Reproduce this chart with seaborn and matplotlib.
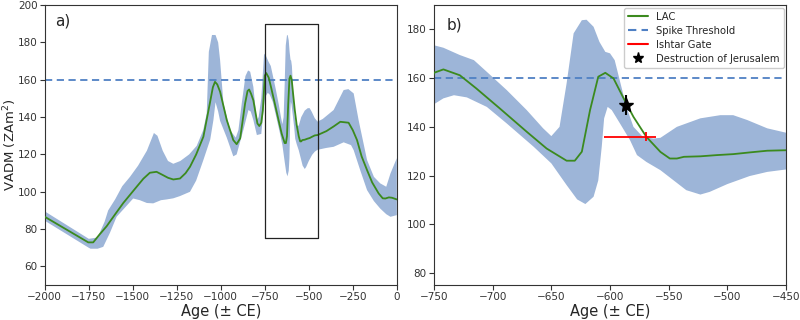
import numpy as np
import pandas as pd
import matplotlib
matplotlib.use("Agg")
import matplotlib.pyplot as plt
from matplotlib.lines import Line2D
import seaborn as sns

# ---- data ----
lac_age = [-2000, -1753, -1725, -1690, -1649, -1600, -1554, -1478, -1440, -1403, -1365, -1330,
           -1300, -1270, -1232, -1200, -1175, -1140, -1099, -1061, -1045, -1033, -1020, -1004,
           -985, -966, -929, -910, -890, -862, -848, -839, -828, -815, -792, -781, -770, -761,
           -750, -742, -728, -714, -694, -671, -654, -637, -630, -624, -617, -610, -604, -597,
           -589, -580, -569, -557, -549, -543, -537, -523, -509, -495, -481, -466, -450, -400,
           -359, -321, -274, -250, -226, -200, -169, -140, -103, -80, -65, -45, -27, 0]
lac_vadm = [86.6, 72.9, 72.9, 77, 81.5, 88, 94, 102.7, 107, 110.2, 110.7, 109,
            107.5, 106.6, 107.1, 110, 113.4, 120, 129.5, 148, 156, 158.9, 157.5, 153.6,
            146, 138.4, 127.7, 125.5, 128.6, 147.3, 154, 154.8, 152.5, 149, 136.6, 135.2, 137, 143.7,
            162.2, 163.6, 161.2, 155.8, 147.6, 138, 131.1, 126.1, 126.1, 129.8, 146.9, 160.6, 162.2, 159.9,
            152.3, 144.1, 135.9, 129.7, 127, 127, 127.7, 127.9, 128.4, 128.8, 129.5, 130.2, 130.4, 132.5,
            135, 137.5, 137, 133, 127.7, 119, 111.6, 105, 99.1, 96.5, 96.4, 97, 96.8, 95.9]

upper_age = [-2000, -1750, -1700, -1660, -1640, -1600, -1560, -1516, -1470, -1420, -1380, -1360,
             -1330, -1300, -1270, -1230, -1180, -1137, -1100, -1080, -1068, -1050, -1030, -1015,
             -1004, -985, -947, -915, -900, -881, -860, -845, -833, -815, -796, -785, -770, -754,
             -742, -728, -716, -705, -688, -671, -657, -650, -643, -637, -631, -624, -620, -614,
             -609, -604, -600, -596, -591, -586, -580, -572, -563, -557, -543, -523, -506, -495,
             -483, -466, -450, -421, -359, -302, -275, -245, -217, -169, -130, -94, -60, -36, 0]
upper_vadm = [89.5, 74.8, 75.5, 84, 90, 96, 103, 108, 114, 122, 131.5, 130,
              122, 116.5, 115, 116.5, 120, 124.6, 133, 142, 175, 184, 184, 180,
              170.5, 147.3, 133, 129, 133, 147.3, 162, 165, 164.3, 156.2, 138.4, 140, 150, 174,
              172.5, 169.5, 167.4, 162.6, 155.1, 146.9, 139.4, 136.2, 140, 157.8, 178.4, 183.8, 184, 181.1,
              174.9, 170.8, 170.2, 167.4, 157.8, 148.2, 140, 135.9, 135.2, 135.5, 140, 143.5, 144.8, 144.8,
              142.8, 139.4, 137.6, 139, 143.8, 154.5, 155, 152.7, 138.4, 117, 108, 104.5, 102.7, 109.8, 118]

lower_age = [-2000, -1750, -1740, -1700, -1668, -1630, -1592, -1540, -1498, -1460, -1420, -1384,
             -1340, -1308, -1270, -1232, -1175, -1140, -1099, -1060, -1042, -1030, -1015, -1004,
             -966, -929, -910, -872, -843, -830, -815, -795, -770, -756, -750, -742, -733, -722,
             -705, -688, -665, -650, -637, -628, -621, -614, -610, -607, -605, -602, -598.5, -591.5,
             -583, -577, -569, -557, -546, -535, -523, -515, -500, -481, -466, -450, -400, -359,
             -302, -260, -245, -208, -169, -130, -94, -60, -36, 0]
lower_vadm = [84.5, 70, 69.5, 69.5, 70.5, 78, 86.6, 92, 96.4, 95.5, 94, 93.8,
              95.5, 95.9, 96.5, 97.7, 100, 106, 117, 128, 138.4, 148, 143, 138,
              129, 119, 120, 133, 143.8, 143, 138.4, 130.4, 131, 145, 149.3, 151.7, 153, 152.1,
              148.2, 141.4, 131.8, 125, 116.1, 110.2, 108.3, 111.3, 118, 132, 143.5, 148.2, 146.9, 141.4,
              134.6, 128.4, 125.6, 122.2, 118.1, 114, 112.2, 113.3, 116.5, 119.8, 121.5, 122.5, 123.5, 124.1,
              126.5, 125, 122.3, 111.6, 100.9, 95, 91, 88, 86.6, 87.5]

spike_threshold = 160

ishtar_age = [-569]
ishtar_vadm = [136]
ishtar_age_err = [[36], [8]]
ishtar_vadm_err = [2]

jerusalem_age = [-586]
jerusalem_vadm = [149]
jerusalem_vadm_err = [4]

box_age = [-750, -450]
box_vadm = [75, 190]

# ---- style ----
sns.set_theme(style="ticks")
plt.rcParams["font.family"] = ["DejaVu Sans"]
plt.rcParams["xtick.labelsize"] = 7.5
plt.rcParams["ytick.labelsize"] = 7.5
plt.rcParams["axes.edgecolor"] = "#333333"
plt.rcParams["xtick.color"] = "#333333"
plt.rcParams["ytick.color"] = "#333333"

band_color = "#9db5d8"
line_color = "#3b8a1e"
dash_color = "#4f80c4"

df = pd.DataFrame({"age": lac_age, "vadm": lac_vadm})

fig = plt.figure(figsize=(8, 3.2), dpi=100)
ax1 = fig.add_axes([0.056, 0.109, 0.44, 0.875])
ax2 = fig.add_axes([0.5425, 0.109, 0.44, 0.875])

for ax in (ax1, ax2):
    band_x = np.concatenate([upper_age, lower_age[::-1]])
    band_y = np.concatenate([upper_vadm, lower_vadm[::-1]])
    ax.fill(band_x, band_y, color=band_color, lw=0, zorder=1)
    sns.lineplot(data=df, x="age", y="vadm", ax=ax, color=line_color, lw=1.3, zorder=3)
    ax.axhline(spike_threshold, color=dash_color, ls=(0, (4, 2.5)), lw=1.3, zorder=2)
    ax.set_xlabel("Age (± CE)", fontsize=10.5, labelpad=1)
    ax.set_ylabel("")
    for s in ax.spines.values():
        s.set_visible(True)
        s.set_linewidth(0.8)
    ax.tick_params(length=3.5, width=0.8, pad=1.8)

# panel a
ax1.set_xlim(-2000, 0)
ax1.set_ylim(50, 200)
ax1.set_xticks([-2000, -1750, -1500, -1250, -1000, -750, -500, -250, 0])
ax1.set_yticks([60, 80, 100, 120, 140, 160, 180, 200])
ax1.set_ylabel("VADM (ZAm$^2$)", fontsize=9.5)
ax1.yaxis.set_label_coords(-0.074, 0.5)
ax1.plot([box_age[0], box_age[1], box_age[1], box_age[0], box_age[0]],
         [box_vadm[0], box_vadm[0], box_vadm[1], box_vadm[1], box_vadm[0]],
         color="#222222", lw=0.9, zorder=4)
ax1.text(0.03, 0.945, "a)", transform=ax1.transAxes, fontsize=11, va="center", ha="left")

# panel b
ax2.set_xlim(-750, -450)
ax2.set_ylim(75, 190)
ax2.set_xticks([-750, -700, -650, -600, -550, -500, -450])
ax2.set_yticks([80, 100, 120, 140, 160, 180])
ax2.errorbar(ishtar_age, ishtar_vadm, xerr=ishtar_age_err, yerr=ishtar_vadm_err,
             fmt="none", ecolor="red", elinewidth=1.3, zorder=5)
ax2.errorbar(jerusalem_age, jerusalem_vadm, yerr=jerusalem_vadm_err,
             fmt="*", color="black", ms=10, elinewidth=1.5, zorder=6)
ax2.text(0.035, 0.93, "b)", transform=ax2.transAxes, fontsize=11, va="center", ha="left")

handles = [
    Line2D([], [], color=line_color, lw=1.5),
    Line2D([], [], color=dash_color, lw=1.5, ls=(0, (4, 2.5))),
    Line2D([], [], color="red", lw=1.5),
    Line2D([], [], color="black", marker="*", ls="none", ms=8),
]
labels = ["LAC", "Spike Threshold", "Ishtar Gate", "Destruction of Jerusalem"]
ax2.legend(handles, labels, loc="upper right", fontsize=7.2, frameon=True,
           borderpad=0.4, labelspacing=0.4, handlelength=2.0, handletextpad=0.8,
           borderaxespad=0.25, framealpha=1, edgecolor="#cccccc")

fig.savefig("out.png", dpi=100)
